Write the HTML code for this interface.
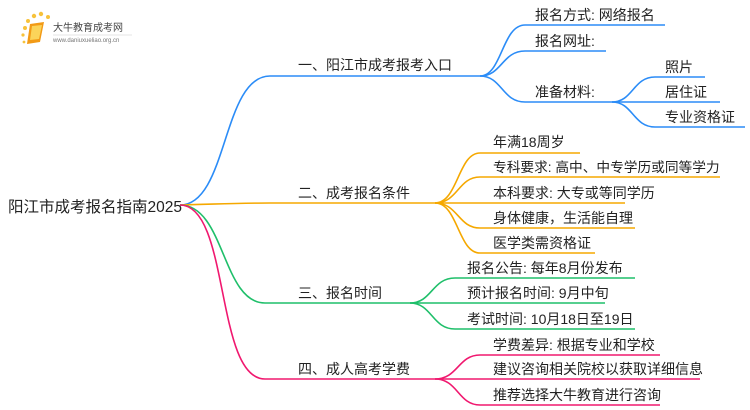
<!DOCTYPE html>
<html><head><meta charset="utf-8"><style>
html,body{margin:0;padding:0;background:#fff;}
svg{display:block;}
text{font-family:"Liberation Sans","Noto Sans CJK SC",sans-serif;font-size:14px;fill:#222;}
</style></head><body>
<svg width="750" height="410" viewBox="0 0 750 410" xmlns="http://www.w3.org/2000/svg">
<g>
<circle cx="25" cy="28" r="2" fill="#f7c23a"/><circle cx="28" cy="21" r="2" fill="#f7c23a"/><circle cx="34" cy="16" r="2.2" fill="#f7c23a"/><circle cx="41" cy="14" r="2.2" fill="#f7c23a"/><circle cx="48" cy="17" r="2" fill="#f7c23a"/><circle cx="23" cy="35" r="1.6" fill="#f7c23a"/><circle cx="24" cy="42" r="1.4" fill="#f7c23a"/>
<path d="M30 24 L44 22 L40 42 L27 44 Z" fill="#f29a16"/>
<path d="M32 26 L42 25 L39 39 L30 40 Z" fill="#fbd45a"/>
<text x="53" y="31" style="font-size:10px;fill:#444">大牛教育成考网</text>
<line x1="53" y1="35" x2="132" y2="35" stroke="#ddd" stroke-width="0.8"/>
<text x="53" y="42" style="font-size:6px;fill:#777">www.daniuxueliao.org.cn</text>
</g>
<g fill="none" stroke-width="1.6">
<g stroke="#2b8cf7">
<path d="M180 205 C228 205 222 76 270 76 L480 76"/>
<path d="M480 76 C502 76 502 25 525 25 L665 25"/>
<path d="M480 76 C502 76 502 51 525 51 L606 51"/>
<path d="M480 76 C502 76 502 102 525 102 L612 102"/>
<path d="M612 102 C633 102 633 77 655 77 L705 77"/>
<path d="M612 102 L720 102"/>
<path d="M612 102 C633 102 633 127 655 127 L745 127"/>
</g>
<g stroke="#f5a800">
<path d="M180 205 C220 204 240 203 270 203 L435 203"/>
<path d="M435 203 C458 203 458 153 480 153 L580 153"/>
<path d="M435 203 C458 203 458 177 480 177 L720 177"/>
<path d="M435 203 L625 203"/>
<path d="M435 203 C458 203 458 228 480 228 L635 228"/>
<path d="M435 203 C458 203 458 253 480 253 L595 253"/>
</g>
<g stroke="#1fbf6a">
<path d="M180 205 C225 205 222 303 265 303 L410 303"/>
<path d="M410 303 C432 303 432 278 455 278 L635 278"/>
<path d="M410 303 L605 303"/>
<path d="M410 303 C432 303 432 329 455 329 L635 329"/>
</g>
<g stroke="#f0186f">
<path d="M180 205 C230 205 215 379 265 379 L435 379"/>
<path d="M435 379 C458 379 458 355 480 355 L660 355"/>
<path d="M435 379 L700 379"/>
<path d="M435 379 C458 379 458 405 480 405 L660 405"/>
</g>
</g>
<text x="8" y="212" style="font-size:15.5px">阳江市成考报名指南2025</text>
<text x="298" y="70" style="font-size:14px">一、阳江市成考报考入口</text>
<text x="535" y="20">报名方式: 网络报名</text>
<text x="535" y="46">报名网址:</text>
<text x="535" y="97">准备材料:</text>
<text x="665" y="72">照片</text>
<text x="665" y="97">居住证</text>
<text x="665" y="122">专业资格证</text>
<text x="298" y="198" style="font-size:14px">二、成考报名条件</text>
<text x="493" y="147">年满18周岁</text>
<text x="493" y="172" style="font-size:13.7px">专科要求: 高中、中专学历或同等学力</text>
<text x="493" y="198">本科要求: 大专或等同学历</text>
<text x="493" y="223">身体健康，生活能自理</text>
<text x="493" y="248">医学类需资格证</text>
<text x="298" y="298" style="font-size:14px">三、报名时间</text>
<text x="467" y="273">报名公告: 每年8月份发布</text>
<text x="467" y="298">预计报名时间: 9月中旬</text>
<text x="467" y="324">考试时间: 10月18日至19日</text>
<text x="298" y="374" style="font-size:14px">四、成人高考学费</text>
<text x="493" y="350">学费差异: 根据专业和学校</text>
<text x="493" y="374">建议咨询相关院校以获取详细信息</text>
<text x="493" y="400">推荐选择大牛教育进行咨询</text>
</svg>
</body></html>
